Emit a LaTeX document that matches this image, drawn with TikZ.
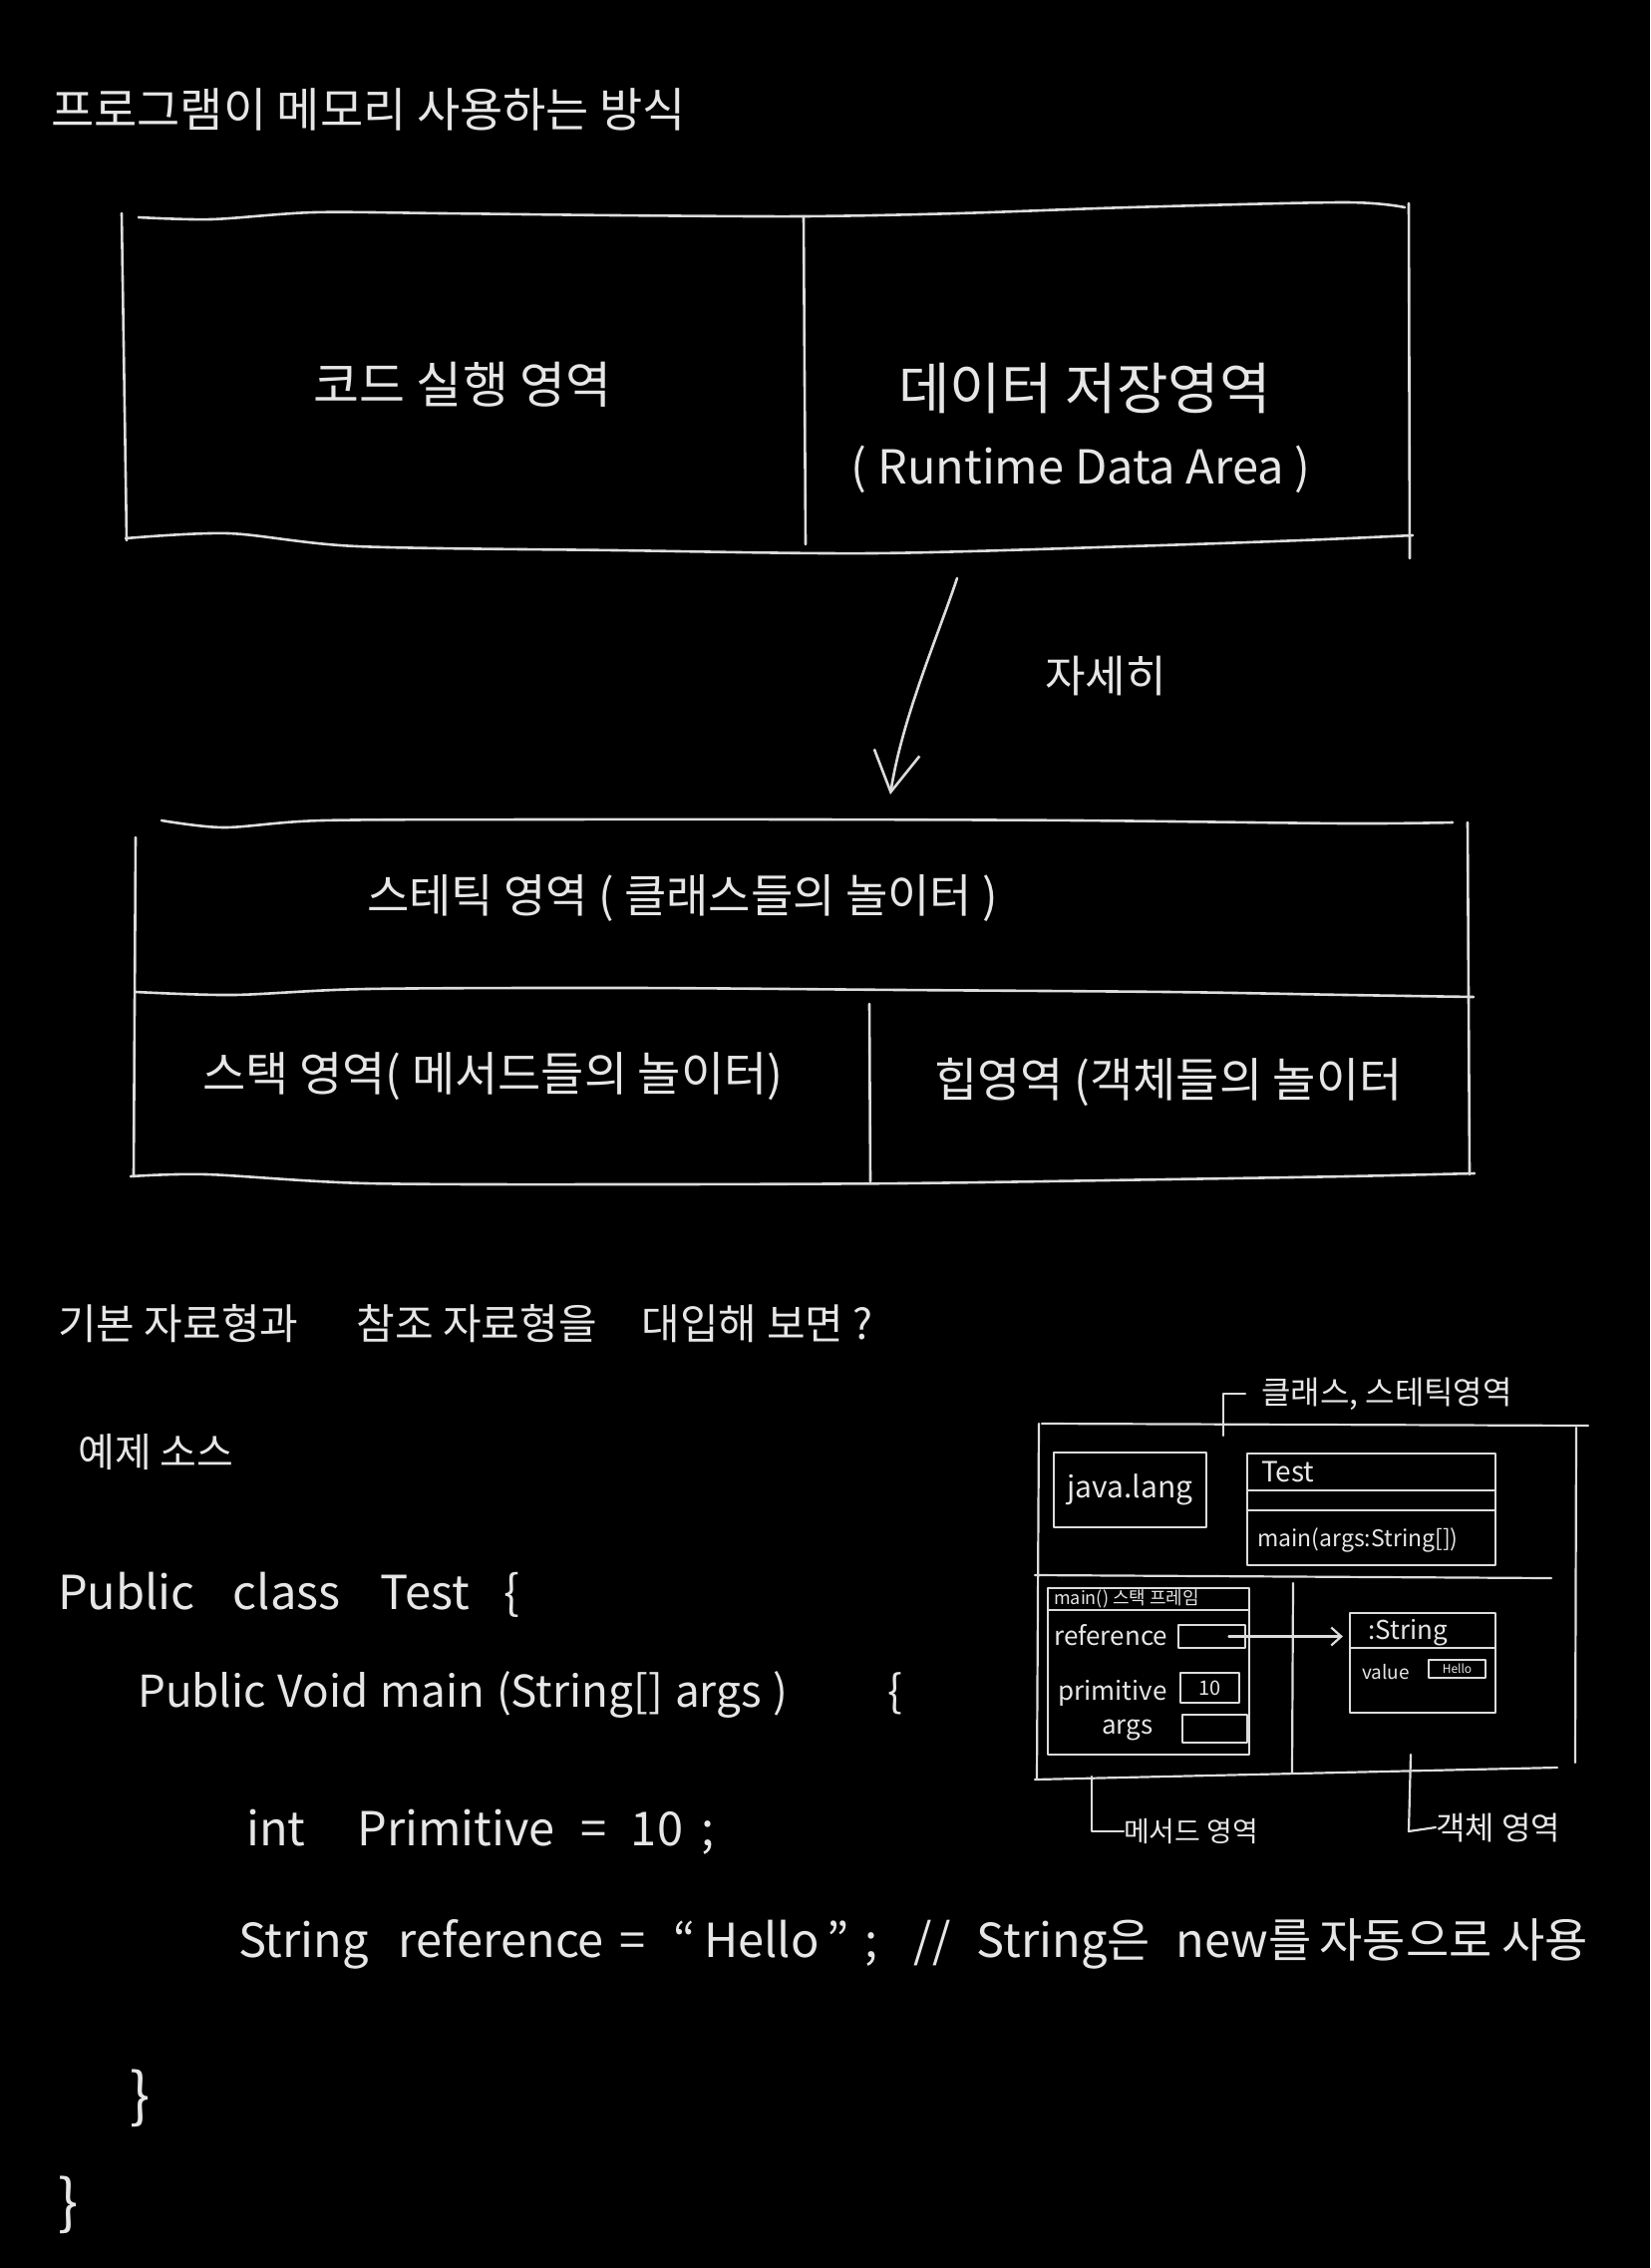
\documentclass[tikz,border=0pt]{standalone}
\usepackage{fontspec}
\setmainfont{Noto Sans CJK KR}
\usetikzlibrary{arrows.meta,calc}
\definecolor{inkc}{HTML}{E6E6E6}
\definecolor{penc}{HTML}{DCDCDC}
\newcommand{\fsz}[1]{\fontsize{#1}{#1}\selectfont}
\newcommand{\gap}[1]{\hspace{#1pt}}
\begin{document}
\begin{tikzpicture}[x=1pt,y=-1pt,line cap=round,line join=round,
  penline/.style={draw=penc,line width=2.6pt},
  thinline/.style={draw=penc,line width=2.2pt},
  txt/.style={text=inkc,inner sep=0pt},
  cell/.style={draw=penc,line width=2.2pt,inner sep=0pt,text=inkc}]
\fill[black] (0,0) rectangle (1655,2275);
\useasboundingbox (0,0) rectangle (1655,2275);

% title
\node[txt,anchor=west,font=\fsz{47}] (title) at (51,110) {프로그램이 메모리 사용하는 방식};

% top box
\draw[penline] plot[smooth,tension=0.5] coordinates {(139,218) (212,220) (315,213) (444,214) (617,216) (806,217) (961,214) (1133,208) (1348,203) (1409,208)};
\draw[penline] (122,214) -- (127,542);
\draw[penline] (1413,204) -- (1414,560);
\draw[penline] (806,217) -- (808,546);
\draw[penline] plot[smooth,tension=0.5] coordinates {(126,540) (229,535) (358,548) (617,552) (875,555) (1133,548) (1305,542) (1417,537)};
\node[txt,font=\fsz{50}] (codearea) at (464,386) {코드 실행 영역};
\node[txt,font=\fsz{56}] (dataarea) at (1088,390) {데이터 저장영역};
\node[txt,font=\fsz{47}] (rda) at (1084,471) {( Runtime Data Area )};

% arrow
\coordinate (arrS) at (960,580);
\coordinate (arrE) at (893,797);
\draw[penline,-{Straight Barb[length=40pt,width=46pt]}] (arrS) .. controls (940,640) and (905,720) .. (arrE);
\node[txt,font=\fsz{44}] (detail) at (1109,678) {자세히};

% second box
\draw[penline] plot[smooth,tension=0.5] coordinates {(162,823) (225,830) (323,823) (546,822) (814,822) (1082,823) (1350,826) (1457,825)};
\draw[penline] (136,840) -- (134,1180);
\draw[penline] (1472,825) -- (1474,1178);
\draw[penline] plot[smooth,tension=0.5] coordinates {(136,995) (234,998) (368,992) (636,991) (904,993) (1171,995) (1350,998) (1478,1000)};
\draw[penline] plot[smooth,tension=0.5] coordinates {(131,1180) (207,1178) (368,1187) (636,1188) (904,1187) (1171,1183) (1350,1180) (1479,1177)};
\draw[penline] (872,1007) -- (873,1185);
\node[txt,anchor=west,font=\fsz{46}] (static) at (368,901) {스테틱 영역 ( 클래스들의 놀이터 )};
\node[txt,anchor=west,font=\fsz{47}] (stack) at (203,1080) {스택 영역( 메서드들의 놀이터)};
\node[txt,anchor=west,font=\fsz{47}] (heap) at (937,1085) {힙영역 (객체들의 놀이터};

% question
\node[txt,anchor=west,font=\fsz{42}] (question) at (58,1328) {기본 자료형과\gap{58}참조 자료형을\gap{45}대입해 보면 ?};
\node[txt,anchor=west,font=\fsz{40}] (example) at (78,1457) {예제 소스};

% code
\node[txt,anchor=west,font=\fsz{47}] (line1) at (58,1600) {Public\gap{38}class\gap{40}Test\gap{35}\{};
\node[txt,anchor=west,font=\fsz{44}] (line2) at (138,1700) {Public\gap{12}Void\gap{12}main\gap{12}(String[]\gap{12}args\gap{12})\gap{100}\{};
\node[txt,anchor=west,font=\fsz{47}] (line3) at (247,1838) {int\gap{52}Primitive\gap{26}=\gap{24}10\gap{18};};
\node[txt,anchor=west,font=\fsz{47}] (line4) at (239,1950) {String\gap{30}reference\gap{16}=\gap{28}``\gap{8}Hello\gap{8}''\gap{16};\gap{36}//\gap{26}String은\gap{26}new를\gap{8}자동으로\gap{10}사용};
\node[txt,anchor=west,font=\fsz{60}] (close1) at (130,2105) {\}};
\node[txt,anchor=west,font=\fsz{60}] (close2) at (58,2212) {\}};

% inner diagram frame
\draw[thinline] (1045,1428) -- (1593,1430);
\draw[thinline] (1042,1428) -- (1040,1785);
\draw[thinline] (1581,1432) -- (1580,1768);
\draw[thinline] (1038,1785) -- (1300,1779) -- (1562,1773);
\draw[thinline] (1038,1580) -- (1556,1583);
\draw[thinline] (1297,1588) -- (1296,1778);

% class area
\node[cell,minimum width=153pt,minimum height=75pt,font=\fsz{30}] (javalang) at (1133.5,1494.5) {java.lang};
\node[cell,minimum width=249pt,minimum height=112pt] (testcls) at (1375.5,1514) {};
\draw[thinline] (1251,1495) -- (1500,1495);
\draw[thinline] (1251,1515) -- (1500,1515);
\node[txt,anchor=west,font=\fsz{28}] (testname) at (1265,1476) {Test};
\node[txt,anchor=west,font=\fsz{23}] (testmeth) at (1261,1545) {main(args:String[])};

% stack frame
\node[cell,minimum width=202pt,minimum height=167pt] (frame) at (1152,1676.5) {};
\draw[thinline] (1051,1615) -- (1253,1615);
\node[txt,anchor=west,font=\fsz{18}] (framehead) at (1057,1604) {main() 스택 프레임};
\node[txt,anchor=west,font=\fsz{26}] (reflabel) at (1057,1640) {reference};
\node[cell,minimum width=67pt,minimum height=23pt] (refbox) at (1215.5,1641.5) {};
\node[txt,anchor=west,font=\fsz{26}] (primlabel) at (1061,1698) {primitive};
\node[cell,minimum width=59pt,minimum height=30pt,font=\fsz{20}] (primbox) at (1213.5,1693) {10};
\node[txt,anchor=west,font=\fsz{26}] (argslabel) at (1105,1735) {args};
\node[cell,minimum width=65pt,minimum height=28pt] (argsbox) at (1218.5,1734) {};

% string object
\node[cell,minimum width=146pt,minimum height=100pt] (strobj) at (1427,1668) {};
\draw[thinline] (1354,1653) -- (1500,1653);
\node[txt,anchor=west,font=\fsz{26}] (strname) at (1372,1638) {:String};
\node[txt,anchor=west,font=\fsz{19}] (vallabel) at (1366,1677) {value};
\node[cell,minimum width=57pt,minimum height=18pt,font=\fsz{12}] (hellobox) at (1461.5,1674) {Hello};
\draw[thinline,-{Straight Barb[length=10pt,width=18pt]},shorten >=6pt] ([xshift=17pt]refbox.center) -- (strobj.west |- refbox.center);

% bracket labels
\node[txt,anchor=west,font=\fsz{32}] (clslabel) at (1265,1398) {클래스, 스테틱영역};
\coordinate (clsA) at (1227,1440);
\draw[thinline,shorten >=16pt] (clsA) |- (clslabel.west);
\node[txt,anchor=west,font=\fsz{28}] (methlabel) at (1127,1837) {메서드 영역};
\coordinate (methA) at (1095,1782);
\draw[thinline] (methA) |- (methlabel.west);
\node[txt,anchor=west,font=\fsz{32}] (objlabel) at (1440,1833) {객체 영역};
\coordinate (objA) at (1415,1760);
\draw[thinline] (objA) -- ++(-2,77) -- (objlabel.west);
\end{tikzpicture}
\end{document}
